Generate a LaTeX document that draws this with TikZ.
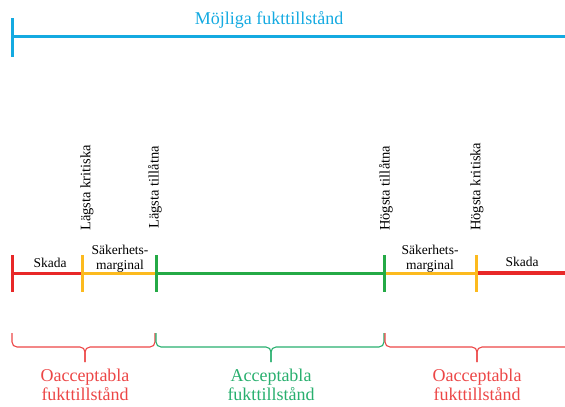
\documentclass[tikz,border=0pt]{standalone}
\usepackage{fontspec}
\setmainfont{Liberation Serif}
\usepackage{xcolor}
\definecolor{fblue}{RGB}{20,170,225}
\definecolor{fred}{RGB}{232,40,40}
\definecolor{forange}{RGB}{252,186,30}
\definecolor{fgreen}{RGB}{36,170,70}
\definecolor{tred}{RGB}{236,70,70}
\definecolor{tgreen}{RGB}{40,175,110}

\begin{document}
\begin{tikzpicture}[x=1pt,y=-1pt,
  bar/.style={line width=3pt},
  lbl/.style={font=\fontsize{13.5}{15}\selectfont,align=center,inner sep=0pt},
  limit/.style={font=\fontsize{14.5}{16}\selectfont,rotate=90,anchor=west,inner sep=0pt},
  brc/.style={rounded corners=5pt,line width=1.1pt},
  big/.style={font=\fontsize{18}{19}\selectfont,align=center,inner sep=0pt,anchor=south}]
\useasboundingbox (0,0) rectangle (565,407);

% possible states
\coordinate (m0) at (12,36);
\coordinate (m1) at (570,36);
\draw[fblue,bar] (m0) -- (m1);
\draw[fblue,bar] (12,18) -- (12,57);
\node[big,text=fblue,anchor=center] (title) at (269,20) {Möjliga fukttillstånd};

% limits on the scale
\coordinate (p0) at (12,273);
\coordinate (p1) at (82,273);
\coordinate (p2) at (156,273);
\coordinate (p3) at (384,273);
\coordinate (p4) at (476,273);
\coordinate (p5) at (570,273);
\draw[fred,bar] (p0) -- (p1);
\draw[forange,bar] (p1) -- (p2);
\draw[fgreen,bar] (p2) -- (p3);
\draw[forange,bar] (p3) -- (p4);
\draw[fred,line width=4pt] (p4) -- (p5);
\foreach \x/\c in {12/fred,82/forange,156/fgreen,384/fgreen,476/forange}
  \draw[\c,bar] (\x,255) -- (\x,292);

\node[lbl] (skada1) at (50,263) {Skada};
\node[lbl] (marg1) at (120,259) {Säkerhets-\\marginal};
\node[lbl] (marg2) at (430,259) {Säkerhets-\\marginal};
\node[lbl] (skada2) at (522,262) {Skada};

\node[limit] (lk) at (87,231) {Lägsta kritiska};
\node[limit] (lt) at (155,229) {Lägsta tillåtna};
\node[limit] (ht) at (386,231) {Högsta tillåtna};
\node[limit] (hk) at (477,231) {Högsta kritiska};

% ranges
\coordinate (t1) at (85,362);
\coordinate (t2) at (271,362);
\coordinate (t3) at (477,362);
\draw[brc,tred] (12,333) |- (85,347) -- (t1);
\draw[brc,tred] (155,333) |- (85,347) -- (t1);
\draw[brc,tgreen] (156,333) |- (271,347) -- (t2);
\draw[brc,tgreen] (384,333) |- (271,347) -- (t2);
\draw[brc,tred] (385,333) |- (477,347) -- (t3);
\draw[brc,tred] (570,333) |- (477,347) -- (t3);

\node[big,text=tred] (un1) at (85,401) {Oacceptabla\\fukttillstånd};
\node[big,text=tgreen] (acc) at (271,401) {Acceptabla\\fukttillstånd};
\node[big,text=tred] (un2) at (477,401) {Oacceptabla\\fukttillstånd};
\end{tikzpicture}
\end{document}
